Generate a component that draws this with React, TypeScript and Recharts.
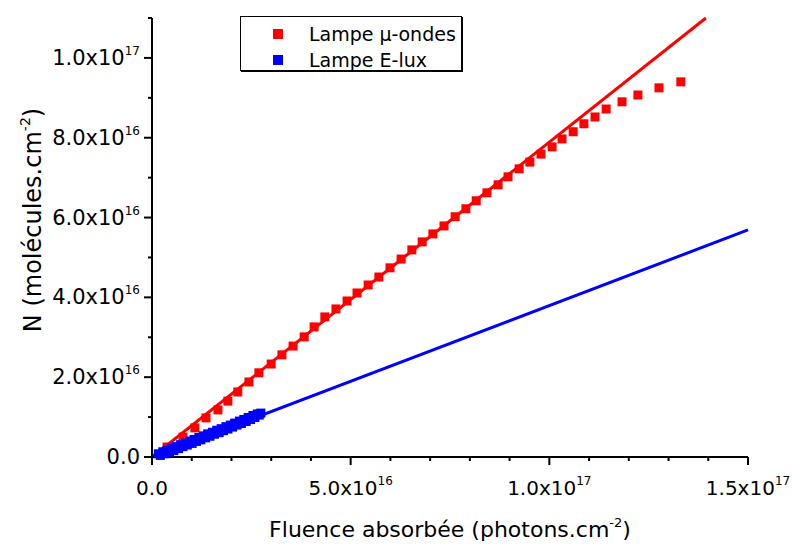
import React from 'react';
import { ScatterChart, Scatter, XAxis, YAxis, ReferenceLine, Legend, Label } from 'recharts';

// values in units of 1e16
const microX = [0.38, 0.78, 1.08, 1.36, 1.66, 1.91, 2.16, 2.44, 2.69, 3.0, 3.27, 3.55, 3.83, 4.08, 4.35, 4.63, 4.91, 5.16, 5.44, 5.71, 5.99, 6.27, 6.54, 6.8, 7.07, 7.35, 7.63, 7.9, 8.16, 8.43, 8.71, 8.96, 9.24, 9.51, 9.79, 10.07, 10.32, 10.6, 10.87, 11.15, 11.43, 11.83, 12.23, 12.76, 13.31];
const microY = [0.25, 0.5, 0.73, 0.98, 1.18, 1.4, 1.63, 1.88, 2.11, 2.33, 2.56, 2.78, 3.01, 3.26, 3.51, 3.71, 3.91, 4.11, 4.31, 4.51, 4.74, 4.96, 5.19, 5.39, 5.59, 5.79, 6.02, 6.22, 6.42, 6.62, 6.82, 7.02, 7.22, 7.39, 7.59, 7.77, 7.97, 8.15, 8.35, 8.52, 8.72, 8.9, 9.07, 9.25, 9.4];

const eluxX = [0.16, 0.21, 0.27, 0.33, 0.38, 0.44, 0.5, 0.55, 0.61, 0.67, 0.72, 0.78, 0.84, 0.89, 0.95, 1.01, 1.06, 1.12, 1.18, 1.23, 1.29, 1.35, 1.4, 1.46, 1.52, 1.57, 1.63, 1.69, 1.74, 1.8, 1.86, 1.91, 1.97, 2.03, 2.08, 2.14, 2.2, 2.25, 2.31, 2.37, 2.42, 2.48, 2.54, 2.59, 2.65, 2.7, 2.74];
const eluxY = [0.08, 0.04, 0.13, 0.08, 0.17, 0.12, 0.22, 0.16, 0.26, 0.21, 0.31, 0.26, 0.35, 0.3, 0.4, 0.34, 0.44, 0.39, 0.49, 0.43, 0.53, 0.48, 0.58, 0.52, 0.62, 0.57, 0.67, 0.61, 0.71, 0.66, 0.76, 0.7, 0.8, 0.75, 0.85, 0.8, 0.9, 0.84, 0.94, 0.89, 0.99, 0.94, 1.04, 0.99, 1.08, 1.05, 1.1];

// linear fits (end points)
const microFit = [{ x: 0, y: 0 }, { x: 13.94, y: 11 }];
const eluxFit = [{ x: 0, y: 0 }, { x: 15, y: 5.69 }];

const seriesNames = ['Lampe μ-ondes', 'Lampe E-lux'];
const seriesColors = ['#ff0000', '#0000ff'];

const xTicks = [0, 1, 2, 3, 4, 5, 6, 7, 8, 9, 10, 11, 12, 13, 14, 15];
const yTicks = [0, 1, 2, 3, 4, 5, 6, 7, 8, 9, 10, 11];
const xTickLabels: Record<number, [string, string]> = { 0: ['0.0', ''], 5: ['5.0x10', '16'], 10: ['1.0x10', '17'], 15: ['1.5x10', '17'] };
const yTickLabels: Record<number, [string, string]> = { 0: ['0.0', ''], 2: ['2.0x10', '16'], 4: ['4.0x10', '16'], 6: ['6.0x10', '16'], 8: ['8.0x10', '16'], 10: ['1.0x10', '17'] };

const font = 'DejaVu Sans';

const microData = microX.map((x, i) => ({ x, y: microY[i] }));
const eluxData = eluxX.map((x, i) => ({ x, y: eluxY[i] }));

const square = (fill: string) => (props: any) => (
  <rect x={props.cx - 4.5} y={props.cy - 4.5} width={9} height={9} fill={fill} />
);

const XTick = (props: any) => {
  const { x, y, payload } = props;
  const lab = xTickLabels[payload.value];
  return (
    <g>
      <line x1={x} y1={y} x2={x} y2={y + (lab ? 8 : 4)} stroke="#000" strokeWidth={2} />
      {lab && (
        <text x={x} y={y + 38} textAnchor="middle" fontFamily={font} fontSize={20} fill="#000">
          {lab[0]}
          {lab[1] && <tspan dy={-10} fontSize={12}>{lab[1]}</tspan>}
        </text>
      )}
    </g>
  );
};

const YTick = (props: any) => {
  const { x, y, payload } = props;
  const lab = yTickLabels[payload.value];
  return (
    <g>
      <line x1={x} y1={y} x2={x - (lab ? 8 : 4)} y2={y} stroke="#000" strokeWidth={2} />
      {lab && (
        <text x={x - 12} y={y + 7} textAnchor="end" fontFamily={font} fontSize={21} fill="#000">
          {lab[0]}
          {lab[1] && <tspan dy={-10} fontSize={12}>{lab[1]}</tspan>}
        </text>
      )}
    </g>
  );
};

const renderLegend = () => (
  <div style={{ position: 'relative', width: 222, height: 55, border: '1px solid #000', boxShadow: '1px 1px 0 #000', boxSizing: 'border-box', background: '#fff', fontFamily: font, fontSize: 19, color: '#000' }}>
    {seriesNames.map((name, i) => (
      <div key={name} style={{ position: 'absolute', left: 0, top: 4 + i * 26, height: 26, display: 'flex', alignItems: 'center' }}>
        <span style={{ display: 'inline-block', width: 10, height: 10, background: seriesColors[i], marginLeft: 32 }} />
        <span style={{ marginLeft: 26, whiteSpace: 'nowrap' }}>{name}</span>
      </div>
    ))}
  </div>
);

export default function App() {
  return (
    <div style={{ position: 'absolute', left: 0, top: 0, background: '#fff' }}>
      <ScatterChart width={792} height={544} margin={{ top: 18, right: 44, left: 0, bottom: 0 }}>
        <XAxis type="number" dataKey="x" domain={[0, 15]} ticks={xTicks} interval={0} height={87}
          axisLine={{ stroke: '#000', strokeWidth: 2 }} tickLine={false} tickSize={0} tickMargin={0} tick={<XTick />}>
          <Label content={(p: any) => (
            <text x={p.viewBox.x + p.viewBox.width / 2} y={p.viewBox.y + 80} textAnchor="middle" fontFamily={font} fontSize={22} fill="#000">
              Fluence absorbée (photons.cm<tspan dy={-10} fontSize={13}>-2</tspan><tspan dy={10}>)</tspan>
            </text>
          )} />
        </XAxis>
        <YAxis type="number" dataKey="y" domain={[0, 11]} ticks={yTicks} interval={0} width={152}
          axisLine={{ stroke: '#000', strokeWidth: 2 }} tickLine={false} tickSize={0} tickMargin={0} tick={<YTick />}>
          <Label content={() => (
            <text x={41} y={220} transform="rotate(-90 41 220)" textAnchor="middle" fontFamily={font} fontSize={24} fill="#000">
              N (molécules.cm<tspan dy={-11} fontSize={14}>-2</tspan><tspan dy={11}>)</tspan>
            </text>
          )} />
        </YAxis>
        <Legend layout="horizontal" verticalAlign="middle" align="center" content={renderLegend}
          wrapperStyle={{ left: 240, top: 16, width: 222, height: 55 }} />
        <Scatter name={seriesNames[0]} data={microData} fill={seriesColors[0]} shape={square(seriesColors[0])} isAnimationActive={false} />
        <ReferenceLine segment={microFit} stroke={seriesColors[0]} strokeWidth={3} />
        <Scatter name={seriesNames[1]} data={eluxData} fill={seriesColors[1]} shape={square(seriesColors[1])} isAnimationActive={false} />
        <ReferenceLine segment={eluxFit} stroke={seriesColors[1]} strokeWidth={3} />
      </ScatterChart>
    </div>
  );
}
